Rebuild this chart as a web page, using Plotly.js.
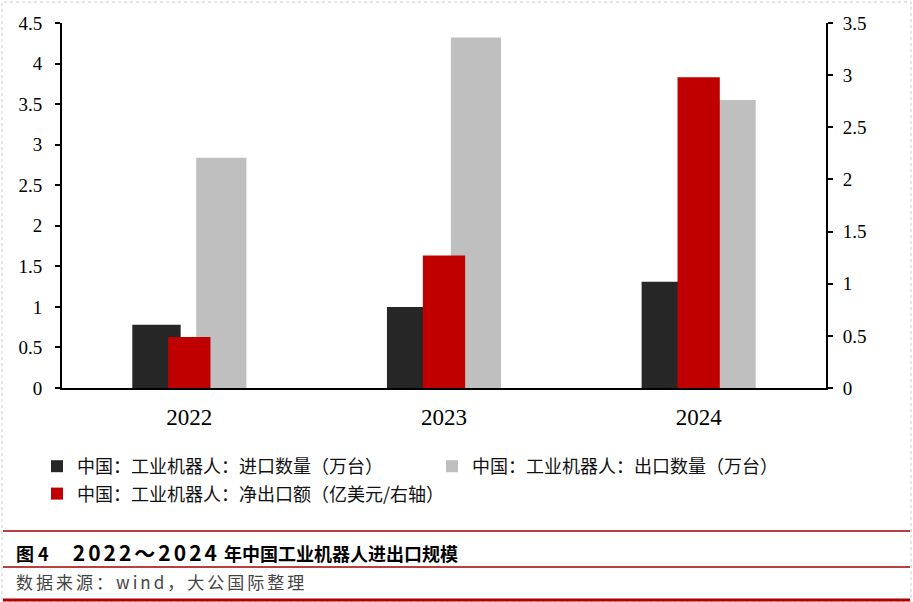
<!DOCTYPE html>
<html><head><meta charset="utf-8">
<script src="https://cdn.plot.ly/plotly-3.0.1.min.js"></script>
<style>body{margin:0;padding:0;background:#fff;}#chart{width:913px;height:602px;}</style>
</head><body><div id="chart"></div>
<script>
const years = ['2022', '2023', '2024'];
const importQty = [0.78, 1.00, 1.31];
const exportQty = [2.84, 4.32, 3.55];
const netExport = [0.49, 1.27, 2.98];
const seriesNames = ['中国：工业机器人：进口数量（万台）', '中国：工业机器人：出口数量（万台）', '中国：工业机器人：净出口额（亿美元/右轴）'];
const titlePrefix = '图 4';
const titleYears = '2022～2024';
const titleRest = '年中国工业机器人进出口规模';
const sourceText = '数据来源：wind，大公国际整理';

const serif = '"Liberation Serif", "DejaVu Serif", serif';
const cjk = '"Noto Sans CJK SC", sans-serif';

const traces = [
  {type:'bar', x:years, y:importQty, name:seriesNames[0], marker:{color:'#262626'}, offset:-0.224, width:0.19, yaxis:'y', legend:'legend', legendgroup:'a'},
  {type:'bar', x:years, y:exportQty, name:seriesNames[1], marker:{color:'#bfbfbf'}, offset:0.027, width:0.197, yaxis:'y', legend:'legend2', legendgroup:'b'},
  {type:'bar', x:years, y:netExport, name:seriesNames[2], marker:{color:'#c00000'}, offset:-0.083, width:0.166, yaxis:'y2', legend:'legend', legendgroup:'c'}
];
const H = 365;
function py(p){ return (388 - p) / H; }
function px(p){ return (p - 62) / 764; }
const legendFont = {family:cjk, size:18, color:'#111'};
const layout = {
  width:913, height:602,
  margin:{l:62, r:87, t:23, b:214},
  paper_bgcolor:'#fff', plot_bgcolor:'#fff',
  barmode:'overlay',
  showlegend:true,
  xaxis:{type:'category', showline:true, linecolor:'#000', linewidth:2, ticks:'', showgrid:false,
         tickfont:{family:serif, size:23, color:'#000'}, ticklabelstandoff:7, fixedrange:true},
  yaxis:{range:[0,4.5], dtick:0.5, tick0:0, showline:true, linecolor:'#000', linewidth:2, ticks:'outside', ticklen:5, tickwidth:2, tickcolor:'#000',
         showgrid:false, zeroline:false, tickfont:{family:serif, size:19, color:'#000'}, ticklabelstandoff:9},
  yaxis2:{range:[0,3.5], dtick:0.5, tick0:0, overlaying:'y', side:'right', showline:true, linecolor:'#000', linewidth:2, ticks:'outside', ticklen:5, tickwidth:2, tickcolor:'#000',
         showgrid:false, zeroline:false, tickfont:{family:serif, size:19, color:'#000'}, ticklabelstandoff:6},
  legend:{orientation:'v', x:px(37), xanchor:'left', y:py(448), yanchor:'top', traceorder:'grouped', tracegroupgap:1,
          font:legendFont, itemwidth:30, bgcolor:'rgba(0,0,0,0)'},
  legend2:{orientation:'v', x:px(432), xanchor:'left', y:py(448), yanchor:'top',
          font:legendFont, itemwidth:30, bgcolor:'rgba(0,0,0,0)'},
  shapes:[
    {type:'rect', xref:'paper', yref:'paper', x0:px(2), x1:px(911), y0:py(601), y1:py(2), line:{color:'#cccccc', width:1, dash:'dot'}},
    {type:'line', xref:'paper', yref:'paper', x0:px(3), x1:px(910), y0:py(531), y1:py(531), line:{color:'#a00000', width:1.5}},
    {type:'line', xref:'paper', yref:'paper', x0:px(3), x1:px(910), y0:py(567), y1:py(567), line:{color:'#a00000', width:1.5}},
    {type:'line', xref:'paper', yref:'paper', x0:px(3), x1:px(910), y0:py(600), y1:py(600), line:{color:'#b00000', width:3}}
  ],
  annotations:[
    {xref:'paper', yref:'paper', x:px(14), y:py(552), xanchor:'left', yanchor:'middle', showarrow:false,
     text:'<b>'+titlePrefix+'<span style="letter-spacing:20px"> </span><span style="font-size:21px;letter-spacing:3px">'+titleYears+'</span> '+titleRest+'</b>',
     font:{family:cjk, size:18, color:'#000'}},
    {xref:'paper', yref:'paper', x:px(14), y:py(581), xanchor:'left', yanchor:'middle', showarrow:false,
     text:'<span style="letter-spacing:3px">'+sourceText+'</span>', font:{family:cjk, size:17, color:'#444'}}
  ]
};
Plotly.newPlot('chart', traces, layout, {displayModeBar:false, staticPlot:true});
</script></body></html>
